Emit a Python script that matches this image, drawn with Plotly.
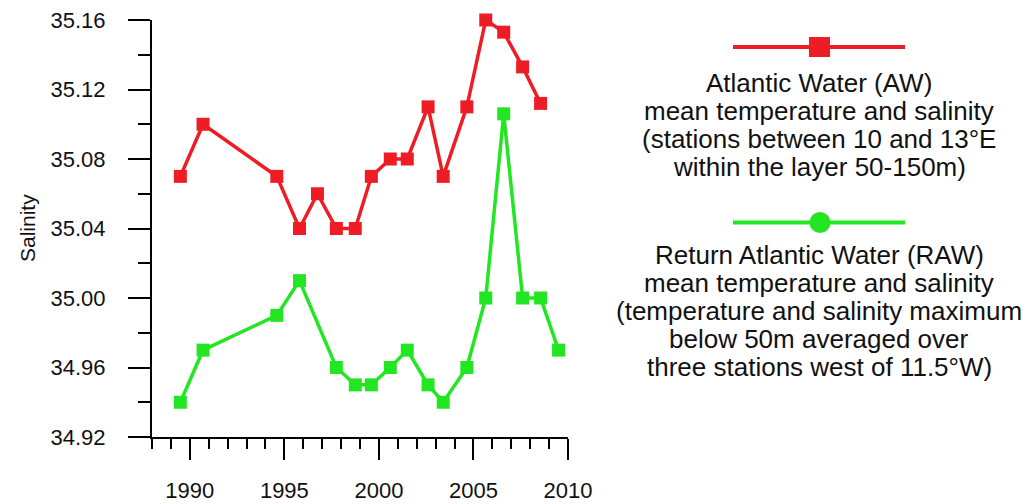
import plotly.graph_objects as go

# Atlantic Water (AW): sampling dates (decimal years) and mean salinity
aw_year = [1989.5, 1990.7, 1994.6, 1995.8, 1996.75, 1997.75, 1998.75, 1999.6,
           2000.6, 2001.5, 2002.6, 2003.4, 2004.65, 2005.65, 2006.6, 2007.6, 2008.55]
aw_salinity = [35.07, 35.10, 35.07, 35.04, 35.06, 35.04, 35.04, 35.07,
               35.08, 35.08, 35.11, 35.07, 35.11, 35.16, 35.153, 35.133, 35.112]

# Return Atlantic Water (RAW): sampling dates and mean salinity
raw_year = [1989.5, 1990.7, 1994.6, 1995.8, 1997.75, 1998.75, 1999.6, 2000.6,
            2001.5, 2002.6, 2003.4, 2004.65, 2005.65, 2006.6, 2007.6, 2008.55, 2009.5]
raw_salinity = [34.94, 34.97, 34.99, 35.01, 34.96, 34.95, 34.95, 34.96,
                34.97, 34.95, 34.94, 34.96, 35.00, 35.106, 35.00, 35.00, 34.97]

x_range = [1988, 2010]
y_range = [34.92, 35.16]
x_tickvals = [1990, 1995, 2000, 2005, 2010]
y_tickvals = [34.92, 34.96, 35.00, 35.04, 35.08, 35.12, 35.16]

aw_label = ["Atlantic Water (AW)",
            "mean temperature and salinity",
            "(stations between 10 and 13°E",
            "within the layer 50-150m)"]
raw_label = ["Return Atlantic Water (RAW)",
             "mean temperature and salinity",
             "(temperature and salinity maximum",
             "below 50m averaged over",
             "three stations west of 11.5°W)"]

RED = "#ee1c24"
GREEN = "#22e622"
FONT = "Arial, 'Liberation Sans', sans-serif"

W, H = 1030, 504
ML, MR, MT, MB = 152, 462, 20, 67
PW, PH = W - ML - MR, H - MT - MB


def px(x):
    return (x - ML) / PW


def py(y):
    return (H - MB - y) / PH


fig = go.Figure()
fig.add_trace(go.Scatter(
    x=aw_year, y=aw_salinity, mode="lines+markers",
    line=dict(color=RED, width=3.5),
    marker=dict(symbol="square", size=13, color=RED),
    cliponaxis=False, showlegend=False))
fig.add_trace(go.Scatter(
    x=raw_year, y=raw_salinity, mode="lines+markers",
    line=dict(color=GREEN, width=3.5),
    marker=dict(symbol="square", size=13, color=GREEN),
    cliponaxis=False, showlegend=False))

shapes = [
    dict(type="line", xref="paper", yref="paper",
         x0=px(733), x1=px(905), y0=py(47), y1=py(47),
         line=dict(color=RED, width=4)),
    dict(type="rect", xref="paper", yref="paper",
         x0=px(809), x1=px(830), y0=py(57), y1=py(37),
         fillcolor=RED, line=dict(width=0)),
    dict(type="line", xref="paper", yref="paper",
         x0=px(733), x1=px(905), y0=py(222.5), y1=py(222.5),
         line=dict(color=GREEN, width=4)),
    dict(type="circle", xref="paper", yref="paper",
         x0=px(809.5), x1=px(830.5), y0=py(233), y1=py(212),
         fillcolor=GREEN, line=dict(width=0)),
]

annotations = []
for i, t in enumerate(aw_label):
    annotations.append(dict(text=t, xref="paper", yref="paper",
                            x=px(819), y=py(83 + 28 * i),
                            xanchor="center", yanchor="middle", showarrow=False,
                            font=dict(family=FONT, size=26, color="#111111")))
for i, t in enumerate(raw_label):
    annotations.append(dict(text=t, xref="paper", yref="paper",
                            x=px(819), y=py(255 + 28 * i),
                            xanchor="center", yanchor="middle", showarrow=False,
                            font=dict(family=FONT, size=26, color="#111111")))
annotations.append(dict(text="Salinity", xref="paper", yref="paper",
                        x=px(27), y=py(228), textangle=-90,
                        xanchor="center", yanchor="middle", showarrow=False,
                        font=dict(family=FONT, size=21, color="#111111")))

fig.update_layout(
    width=W, height=H,
    margin=dict(l=ML, r=MR, t=MT, b=MB, autoexpand=False),
    paper_bgcolor="white", plot_bgcolor="white",
    font=dict(family=FONT, color="#111111"),
    shapes=shapes, annotations=annotations,
)
fig.update_xaxes(
    range=x_range, showgrid=False, zeroline=False,
    showline=True, linecolor="black", linewidth=2,
    ticks="outside", ticklen=21, tickwidth=2, tickcolor="black",
    tickvals=x_tickvals, ticklabelstandoff=12,
    tickfont=dict(family=FONT, size=22, color="#111111"),
    minor=dict(ticks="outside", ticklen=10, tickwidth=2, tickcolor="black",
               tick0=1988, dtick=1, showgrid=False),
)
fig.update_yaxes(
    range=y_range, showgrid=False, zeroline=False,
    showline=True, linecolor="black", linewidth=2,
    ticks="outside", ticklen=22, tickwidth=2, tickcolor="black",
    tickvals=y_tickvals, tickformat=".2f", ticklabelstandoff=18,
    tickfont=dict(family=FONT, size=22, color="#111111"),
    minor=dict(ticks="outside", ticklen=12, tickwidth=2, tickcolor="black",
               tick0=34.92, dtick=0.02, showgrid=False),
)

fig.write_html("out.html")
